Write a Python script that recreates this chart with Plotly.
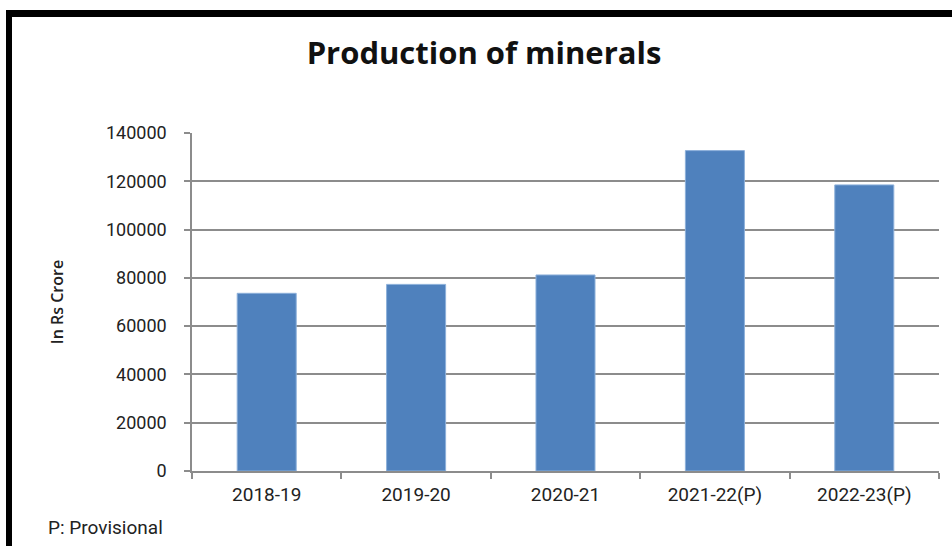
import plotly.graph_objects as go

categories = ["2018-19", "2019-20", "2020-21", "2021-22(P)", "2022-23(P)"]
values = [73600, 77300, 81200, 132700, 118500]
y_ticks = [0, 20000, 40000, 60000, 80000, 100000, 120000, 140000]

FONT = "Roboto"
fig = go.Figure()
fig.add_trace(go.Bar(
    x=categories, y=values,
    marker=dict(color="#4F81BD", line=dict(color="#8DB0DA", width=1)),
    hoverinfo="x+y",
))

# plot area in pixels: x 192..939, y 133..471
L, R, T, B = 192, 939, 133, 471
W, H = R - L, B - T
def px(x): return (x - L) / W
def py(y): return (B - y) / H

fig.update_layout(
    width=952, height=546,
    margin=dict(l=L, r=952 - R, t=T, b=546 - B, pad=0),
    paper_bgcolor="white", plot_bgcolor="white",
    showlegend=False,
    bargap=0.605,
    title=dict(text="<b>Production of minerals</b>", x=(484) / 952, xanchor="center",
               y=1 - 53 / 546, yanchor="middle",
               font=dict(family="Open Sans", size=31, color="#111111")),
    font=dict(family=FONT, color="#222222"),
    xaxis=dict(
        type="category", showgrid=False, showline=True, linecolor="#8c8c8c", linewidth=1.5,
        ticks="outside", tickson="boundaries", ticklen=6, tickcolor="#8c8c8c", tickwidth=1.5,
        tickfont=dict(family=FONT, size=19, color="#222222"),
        ticklabelstandoff=5,
    ),
    yaxis=dict(
        range=[0, 140000], tickvals=y_ticks, ticktext=[str(v) for v in y_ticks],
        showgrid=True, gridcolor="#8c8c8c", gridwidth=1.5,
        showline=True, linecolor="#8c8c8c", linewidth=1.5,
        ticks="outside", ticklen=6, tickcolor="#8c8c8c", tickwidth=1.5,
        tickfont=dict(family=FONT, size=18, color="#222222"),
        ticklabelstandoff=14, zeroline=False,
        title=dict(text="In Rs Crore",
                   font=dict(family="Open Sans", size=16, color="#222222", weight=600),
                   standoff=38),
    ),
    shapes=[
        dict(type="rect", xref="paper", yref="paper", x0=px(6), x1=px(952), y0=py(17), y1=py(10),
             fillcolor="black", line=dict(width=0), layer="above"),
        dict(type="rect", xref="paper", yref="paper", x0=px(6), x1=px(12), y0=py(546), y1=py(10),
             fillcolor="black", line=dict(width=0), layer="above"),
    ],
    annotations=[
        dict(text="P: Provisional", xref="paper", yref="paper", x=px(46), y=py(527),
             xanchor="left", yanchor="middle", showarrow=False,
             font=dict(family=FONT, size=19, color="#222222")),
    ],
)

fig.write_html("out.html")
